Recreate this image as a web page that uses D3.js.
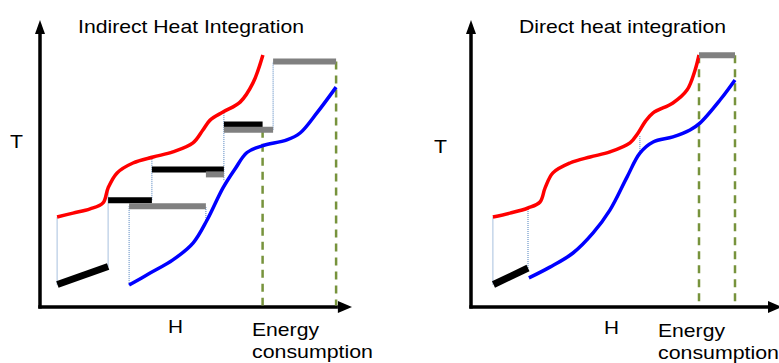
<!DOCTYPE html>
<html>
<head>
<meta charset="utf-8">
<script src="https://cdn.jsdelivr.net/npm/d3@7"></script>
<style>
  html, body { margin: 0; padding: 0; background: #fff; }
  svg { display: block; }
  text { font-family: "Liberation Sans", Arial, sans-serif; fill: #000; }
</style>
</head>
<body>
<svg id="chart" width="779" height="363"></svg>
<script>
// ---------------- DATA ----------------
const panelTitles = ["Indirect Heat Integration", "Direct heat integration"];
const axisLabelY = "T";
const axisLabelX = "H";
const energyLabel = ["Energy", "consumption"];

// Left panel: hot (red) and cold (blue) composite curves (H, T in arbitrary units 0-100)
const leftRedH  = [5.7, 11, 16.7, 21, 22.7, 25.7, 31, 37.7, 44.3, 51, 54.3, 56.7, 61, 66.7, 71, 74.3];
const leftRedT  = [30, 31.3, 32.7, 34.7, 39.7, 44.7, 48, 50, 51.7, 54.7, 59, 62.3, 65, 68.3, 74.7, 84];
const leftBlueH = [29.7, 36.7, 44.3, 51, 55.7, 61, 65, 69, 74, 82.3, 86.7, 92.3, 98.7];
const leftBlueT = [7.3, 11.3, 15.7, 21.3, 29, 39.7, 46, 51.5, 53.7, 55.7, 58, 64.7, 73.3];

// Left panel utility bars: [h0, t0, h1, t1, kind]
const leftBars = [
  [5.8, 7.5, 22.7, 13.5, "cooling"],
  [22.7, 35.6, 37.3, 35.6, "cooling"],
  [29.7, 33.6, 55.3, 33.6, "heating"],
  [37.3, 45.8, 61.3, 45.8, "cooling"],
  [55.3, 44.2, 61.3, 44.2, "heating"],
  [61.3, 60.8, 74.2, 60.8, "cooling"],
  [61.3, 59.1, 77.7, 59.1, "heating"],
  [77.7, 81.8, 98.7, 81.8, "heating"]
];
// Left panel dotted connectors: [h, t0, t1]
const leftDotted = [
  [5.7, 7.5, 30], [22.7, 13.5, 39], [29.7, 7.3, 33.6], [37.3, 35.6, 50],
  [55.3, 29, 33.6], [61.3, 42.3, 65], [77.7, 59.1, 81.8]
];
// Left panel energy consumption markers: [h, tTop]
const leftDashed = [[74.2, 59.1], [98.7, 81.8]];

// Right panel
const rightRedH  = [7.3, 13, 19, 23, 24.7, 27.3, 33, 39.7, 46.3, 53, 55.7, 58, 60.7, 67.3, 72, 74.7, 76];
const rightRedT  = [30, 31.3, 33, 35, 39.7, 44.7, 48, 50, 51.7, 54.7, 58, 61.7, 64.7, 68, 72.3, 79, 84];
const rightBlueH = [19.3, 26.3, 34, 40.7, 46.3, 52, 56.3, 60.7, 67.3, 73, 76.3, 83, 88];
const rightBlueT = [9.7, 13.3, 18, 24.7, 32.3, 43.3, 51.3, 55, 56.7, 59, 61.3, 69, 75.7];
const rightBars = [
  [7.5, 7.5, 19, 13, "cooling"],
  [76, 83.9, 88, 83.9, "heating"]
];
const rightDotted = [[7.3, 7.5, 30], [19, 13, 33], [56.3, 51.3, 57]];
const rightDashed = [[76, 83.9], [88, 83.9]];

// ---------------- DRAW ----------------
const svg = d3.select("#chart");
const barColor = d3.scaleOrdinal().domain(["cooling", "heating"]).range(["#000000", "#808080"]);

function zip(a, b) { return a.map((v, i) => [v, b[i]]); }

function drawPanel(cfg) {
  const x = d3.scaleLinear().domain([0, 100]).range([cfg.x0, cfg.x0 + 300]);
  const y = d3.scaleLinear().domain([0, 100]).range([307, 7]);
  const g = svg.append("g");

  // axes
  g.append("line").attr("x1", x(0)).attr("x2", x(0)).attr("y1", y(0) + 1.5).attr("y2", y(91))
    .attr("stroke", "#000").attr("stroke-width", 3.5);
  g.append("path")
    .attr("d", `M${x(0)},${y(95.7)}L${x(0) - 5},${y(91)}L${x(0) + 5},${y(91)}Z`)
    .attr("fill", "#000");
  g.append("line").attr("x1", x(0) - 1.7).attr("x2", x(cfg.xAxisEnd)).attr("y1", y(0)).attr("y2", y(0))
    .attr("stroke", "#000").attr("stroke-width", 3.5);
  g.append("path")
    .attr("d", `M${x(cfg.xAxisEnd + 4.7)},${y(0)}L${x(cfg.xAxisEnd)},${y(0) - 6}L${x(cfg.xAxisEnd)},${y(0) + 6}Z`)
    .attr("fill", "#000");

  // dashed energy consumption lines
  g.selectAll(".dash").data(cfg.dashed).enter().append("line")
    .attr("x1", d => x(d[0])).attr("x2", d => x(d[0]))
    .attr("y1", d => y(d[1])).attr("y2", y(0) - 1.5)
    .attr("stroke", "#77933C").attr("stroke-width", 2.5).attr("stroke-dasharray", "8,6");

  // dotted connectors
  g.selectAll(".dot").data(cfg.dotted).enter().append("line")
    .attr("x1", d => x(d[0])).attr("x2", d => x(d[0]))
    .attr("y1", d => y(d[1])).attr("y2", d => y(d[2]))
    .attr("stroke", "#4F81BD").attr("stroke-width", 1).attr("stroke-dasharray", "1,1");

  // composite curves
  const line = d3.line().x(d => x(d[0])).y(d => y(d[1])).curve(d3.curveCatmullRom.alpha(0.5));
  g.append("path").datum(zip(cfg.redH, cfg.redT)).attr("d", line)
    .attr("fill", "none").attr("stroke", "#FF0000").attr("stroke-width", 3.5);
  g.append("path").datum(zip(cfg.blueH, cfg.blueT)).attr("d", line)
    .attr("fill", "none").attr("stroke", "#0000FF").attr("stroke-width", 3.5);

  // utility bars
  g.selectAll(".bar").data(cfg.bars).enter().append("line")
    .attr("x1", d => x(d[0])).attr("y1", d => y(d[1]))
    .attr("x2", d => x(d[2])).attr("y2", d => y(d[3]))
    .attr("stroke", d => barColor(d[4]))
    .attr("stroke-width", d => d[1] === d[3] ? 6 : 7);

  // texts
  const t = cfg.text;
  g.append("text").attr("x", t.title[0]).attr("y", t.title[1]).attr("font-size", 18.5)
    .attr("textLength", t.title[2]).attr("lengthAdjust", "spacingAndGlyphs").text(cfg.title);
  g.append("text").attr("x", t.T[0]).attr("y", t.T[1]).attr("font-size", 18.5)
    .attr("textLength", 13).attr("lengthAdjust", "spacingAndGlyphs").text(axisLabelY);
  g.append("text").attr("x", t.H[0]).attr("y", t.H[1]).attr("font-size", 18.5)
    .attr("textLength", 15).attr("lengthAdjust", "spacingAndGlyphs").text(axisLabelX);
  g.append("text").attr("x", t.E[0]).attr("y", t.E[1]).attr("font-size", 18.5)
    .attr("textLength", 67).attr("lengthAdjust", "spacingAndGlyphs").text(energyLabel[0]);
  g.append("text").attr("x", t.E[0]).attr("y", t.E[1] + 22.5).attr("font-size", 18.5)
    .attr("textLength", 121).attr("lengthAdjust", "spacingAndGlyphs").text(energyLabel[1]);
}

drawPanel({
  x0: 40, xAxisEnd: 99.3, title: panelTitles[0],
  redH: leftRedH, redT: leftRedT, blueH: leftBlueH, blueT: leftBlueT,
  bars: leftBars, dotted: leftDotted, dashed: leftDashed,
  text: { title: [78, 33.3, 226], T: [10, 148], H: [168, 333], E: [252, 335.5] }
});
drawPanel({
  x0: 471, xAxisEnd: 99, title: panelTitles[1],
  redH: rightRedH, redT: rightRedT, blueH: rightBlueH, blueT: rightBlueT,
  bars: rightBars, dotted: rightDotted, dashed: rightDashed,
  text: { title: [519, 32.5, 207], T: [434, 153], H: [604, 334], E: [658, 336.5] }
});
</script>
</body>
</html>
